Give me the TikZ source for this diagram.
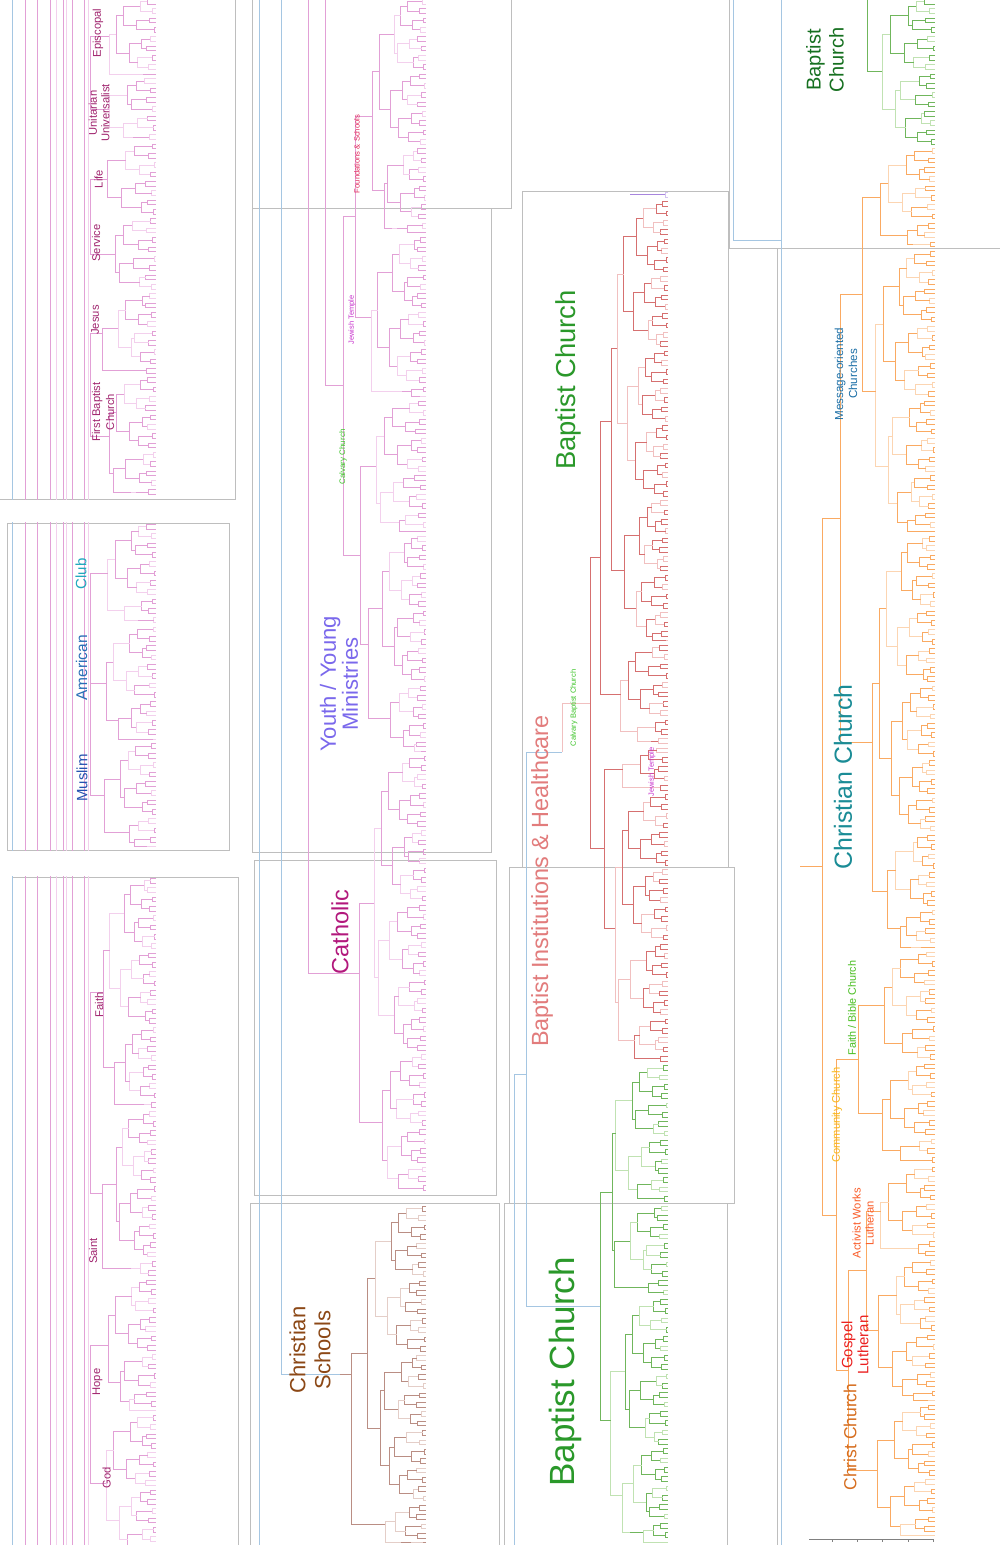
\documentclass[tikz,border=0pt]{standalone}
\usepackage{fontspec}
\setmainfont{Liberation Sans}
\usetikzlibrary{positioning}

% branch colours
\definecolor{pkline}{RGB}{226,160,214}
\definecolor{pklight}{RGB}{243,208,237}
\definecolor{rdline}{RGB}{214,112,112}
\definecolor{rdlight}{RGB}{241,192,192}
\definecolor{gnline}{RGB}{112,182,92}
\definecolor{gnlight}{RGB}{192,226,178}
\definecolor{orline}{RGB}{250,170,98}
\definecolor{orlight}{RGB}{252,213,178}
\definecolor{brline}{RGB}{186,142,132}
\definecolor{brlight}{RGB}{228,206,200}
\definecolor{puline}{RGB}{168,134,222}
\definecolor{pulight}{RGB}{212,196,240}
\definecolor{bgblue}{RGB}{165,198,226}
\definecolor{panelgray}{RGB}{190,190,190}
% label colours
\definecolor{lbmag}{RGB}{160,36,110}
\definecolor{lbclub}{RGB}{32,168,190}
\definecolor{lbamer}{RGB}{40,110,182}
\definecolor{lbmusl}{RGB}{36,82,176}
\definecolor{lbfound}{RGB}{226,40,90}
\definecolor{lbjew}{RGB}{200,50,205}
\definecolor{lbcalv}{RGB}{60,196,40}
\definecolor{lbyouth}{RGB}{122,104,236}
\definecolor{lbcath}{RGB}{178,24,124}
\definecolor{lbschool}{RGB}{140,72,22}
\definecolor{lbbapt}{RGB}{42,152,42}
\definecolor{lbbinst}{RGB}{226,124,124}
\definecolor{lbdkgreen}{RGB}{22,112,32}
\definecolor{lbmsg}{RGB}{26,110,166}
\definecolor{lbchrist}{RGB}{26,140,150}
\definecolor{lbfaith}{RGB}{72,190,32}
\definecolor{lbcomm}{RGB}{250,182,22}
\definecolor{lbactiv}{RGB}{250,92,40}
\definecolor{lbgospel}{RGB}{235,32,32}
\definecolor{lbcc}{RGB}{214,110,32}

\newcommand{\rowh}{4.67}
% #1 leaf x, #2 top y, #3 leaves, #4 levels, #5 level step,
% #6 colour, #7 light colour, #8 seed, #9 x of the root stem
\newcommand{\dtree}[9]{%
  \foreach \k in {1,...,#4}{%
    \pgfmathtruncatemacro{\tbs}{2^\k}%
    \pgfmathtruncatemacro{\thb}{2^(\k-1)}%
    \pgfmathtruncatemacro{\tnb}{ceil(#3/\tbs)-1}%
    \foreach \j in {0,...,\tnb}{%
      \pgfmathtruncatemacro{\tst}{\j*\tbs}%
      \pgfmathtruncatemacro{\tmid}{\tst+\thb}%
      \pgfmathtruncatemacro{\tend}{min(\tst+\tbs,#3)-1}%
      \pgfmathtruncatemacro{\tja}{2*\j}%
      \pgfmathtruncatemacro{\tjb}{2*\j+1}%
      \pgfmathsetmacro{\tpx}{#1-#5*(\k-0.85)-0.8*#5*mod(\j*37+\k*53+#8*17,89)/89}%
      \ifnum\k=1
        \def\tcxa{#1}\def\tcxb{#1}%
      \else
        \pgfmathsetmacro{\tcxa}{#1-#5*(\k-1.85)-0.8*#5*mod(\tja*37+(\k-1)*53+#8*17,89)/89}%
        \pgfmathsetmacro{\tcxb}{#1-#5*(\k-1.85)-0.8*#5*mod(\tjb*37+(\k-1)*53+#8*17,89)/89}%
      \fi
      \pgfmathtruncatemacro{\tea}{min(\tmid,#3)-1}%
      \pgfmathsetmacro{\tya}{#2+\rowh*((\tst+\tea)/2+0.5)}%
      \pgfmathtruncatemacro{\tsh}{mod(\j+\k+#8,3)}%
      \ifnum\tsh=0 \colorlet{dtcol}{#7}\else\colorlet{dtcol}{#6}\fi
      \ifnum\tmid>\tend
        \draw[br,dtcol] (\tcxa,\tya) -- (\tpx,\tya);
      \else
        \pgfmathsetmacro{\tyb}{#2+\rowh*((\tmid+\tend)/2+0.5)}%
        \draw[br,dtcol] (\tcxa,\tya) -- (\tpx,\tya) -- (\tpx,\tyb) -- (\tcxb,\tyb);
      \fi
    }%
  }%
  \pgfmathsetmacro{\trx}{#1-#5*(#4-0.85)-0.8*#5*mod(#4*53+#8*17,89)/89}%
  \pgfmathsetmacro{\try}{#2+\rowh*#3/2}%
  \draw[br,#6] (\trx,\try) -- (#9,\try);
}

\begin{document}
\begin{tikzpicture}[x=1pt,y=-1pt,
    br/.style={line width=0.7pt},
    panel/.style={draw=panelgray,fill=white,line width=0.6pt},
    bgl/.style={line width=0.8pt},
    clab/.style={rotate=90,inner sep=0pt,align=center}]
  \useasboundingbox (0,0) rectangle (1000,1545);
  \begin{scope}
  \clip (0,0) rectangle (1000,1545);
  \fill[white] (0,0) rectangle (1000,1545);

  % panels
  \draw[panel] (-5,-5) rectangle (235,499);
  \draw[panel] (7,523) rectangle (229,850);
  \draw[panel] (12,877) rectangle (238,1550);
  \draw[panel] (252,-5) rectangle (511,208);
  \draw[panel] (252,208) rectangle (491,852);
  \draw[panel] (254,860) rectangle (496,1195);
  \draw[panel] (250,1203) rectangle (499,1550);
  \draw[panel] (522,191) rectangle (728,867);
  \draw[panel] (509,867) rectangle (734,1203);
  \draw[panel] (504,1203) rectangle (727,1550);
  \draw[panel] (729,-5) rectangle (1005,248);
  \draw[panel] (777,248) rectangle (1005,1550);

  % long links behind the clusters
  \foreach \bx/\bc in {12/bgblue,25/pkline,37/pkline,50/pkline,56/pklight,
      63/pkline,66/pklight,72/pkline,84/pkline,88/pklight}
    \draw[bgl,draw=\bc] (\bx,-5) -- (\bx,1550);
  \fill[white] (-5,499.6) rectangle (249,522.4);
  \fill[white] (-5,850.6) rectangle (249,876.4);
  \draw[bgl,bgblue] (259,-5) -- (259,1550);
  \draw[bgl,bgblue] (281,-5) -- (281,1374.5) -- (340,1374.5);
  \draw[bgl,pkline] (308,-5) -- (308,973.1) -- (332,973.1);
  \draw[bgl,pkline] (325,-5) -- (325,385.8);
  \draw[bgl,rdlight] (590,703.2) -- (562,703.2) -- (562,752);
  \draw[bgl,bgblue] (562,752) -- (526,752) -- (526,1306.3) -- (600,1306.3);
  \draw[bgl,bgblue] (526,1074) -- (514,1074) -- (514,1550);
  \draw[bgl,bgblue] (733,-5) -- (733,240) -- (781,240);
  \draw[bgl,bgblue] (781,-5) -- (781,1550);

  % column 1
  \dtree{156}{-3}{17}{5}{11}{pkline}{pklight}{1}{90}
  \dtree{156}{76.4}{14}{4}{12.5}{pkline}{pklight}{2}{90}
  \dtree{156}{141.8}{16}{4}{12.5}{pkline}{pklight}{3}{90}
  \dtree{156}{216.5}{16}{4}{12.5}{pkline}{pklight}{4}{90}
  \dtree{156}{291.2}{18}{5}{11}{pkline}{pklight}{5}{90}
  \dtree{156}{375.3}{26}{5}{11}{pkline}{pklight}{6}{90}
  \dtree{156}{522}{22}{5}{11}{pkline}{pklight}{7}{90}
  \dtree{156}{624.7}{25}{5}{11}{pkline}{pklight}{8}{90}
  \dtree{156}{741.5}{23}{5}{11}{pkline}{pklight}{9}{90}
  \dtree{156}{876}{50}{6}{9.5}{pkline}{pklight}{10}{90}
  \dtree{156}{1109.5}{36}{6}{9.5}{pkline}{pklight}{11}{90}
  \dtree{156}{1277.6}{29}{5}{11}{pkline}{pklight}{12}{90}
  \dtree{156}{1413}{30}{5}{11}{pkline}{pklight}{13}{90}
  \draw[br,pkline] (90,36.7) -- (90,109.1);
  \draw[br,pkline] (90,179.2) -- (90,253.9);
  \draw[br,pkline] (90,333.2) -- (90,436);
  \draw[br,pkline] (90,573.4) -- (90,795.2);
  \draw[br,pkline] (90,992.8) -- (90,1193.6);
  \draw[br,pkline] (90,1345.3) -- (90,1483);

  % column 2
  \dtree{426}{-3}{51}{6}{10}{pkline}{pklight}{14}{355}
  \dtree{426}{235.2}{35}{6}{10}{pkline}{pklight}{15}{355}
  \dtree{426}{398.7}{29}{5}{12}{pkline}{pklight}{16}{360}
  \dtree{426}{534.1}{47}{6}{10}{pkline}{pklight}{17}{360}
  \dtree{426}{753.6}{94}{7}{10}{pkline}{pklight}{18}{332}
  \dtree{426}{1204}{73}{7}{11}{brline}{brlight}{19}{340}
  \draw[br,pkline] (355,116.1) -- (355,316.9);
  \draw[br,pkline] (360,466.4) -- (360,643.8);
  \draw[br,pkline] (355,216.5) -- (343,216.5) -- (343,555.1) -- (360,555.1);
  \draw[br,pkline] (343,385.8) -- (325,385.8);

  % column 3
  \dtree{668}{190}{2}{1}{6}{puline}{pulight}{20}{630}
  \dtree{668}{199.3}{95}{7}{9}{rdline}{rdlight}{21}{600}
  \dtree{668}{643}{22}{5}{11}{rdline}{rdlight}{22}{600}
  \dtree{668}{745.8}{10}{4}{12}{rdline}{rdlight}{23}{604}
  \dtree{668}{792.5}{58}{6}{10}{rdline}{rdlight}{24}{604}
  \dtree{668}{1063.4}{30}{5}{11}{gnline}{gnlight}{25}{612}
  \dtree{668}{1203.5}{20}{5}{11}{gnline}{gnlight}{26}{612}
  \dtree{668}{1296.9}{53}{6}{10}{gnline}{gnlight}{27}{600}
  \draw[br,rdline] (600,421.1) -- (600,694.4);
  \draw[br,rdline] (604,769.2) -- (604,927.9);
  \draw[br,rdline] (600,557.8) -- (590,557.8) -- (590,848.6) -- (604,848.6);
  \draw[br,gnline] (612,1133.5) -- (612,1250.2);
  \draw[br,gnline] (612,1191.9) -- (600,1191.9) -- (600,1420.7);

  % column 4
  \dtree{935}{-3}{32}{5}{12}{gnline}{gnlight}{28}{867}
  \dtree{935}{146.4}{22}{5}{12}{orline}{orlight}{29}{862}
  \dtree{935}{249.2}{61}{6}{11}{orline}{orlight}{30}{862}
  \dtree{935}{534.1}{89}{7}{10}{orline}{orlight}{31}{840}
  \dtree{935}{949.7}{24}{5}{12}{orline}{orlight}{32}{858}
  \dtree{935}{1061.8}{22}{5}{12}{orline}{orlight}{33}{858}
  \dtree{935}{1164.5}{20}{5}{12}{orline}{orlight}{34}{866}
  \dtree{935}{1257.9}{31}{5}{12}{orline}{orlight}{35}{866}
  \dtree{935}{1402.7}{29}{5}{12}{orline}{orlight}{36}{848}
  \draw[br,gnline] (867,71.7) -- (867,-5);
  \draw[br,orline] (862,197.8) -- (862,391.6);
  \draw[br,orline] (862,294.7) -- (840,294.7) -- (840,741.9);
  \draw[br,orline] (858,1005.7) -- (858,1113.2);
  \draw[br,orline] (866,1211.2) -- (866,1330.3);
  \draw[br,orline] (866,1270.8) -- (848,1270.8) -- (848,1470.4);
  \draw[br,orline] (858,1059.5) -- (836,1059.5) -- (836,1370.6) -- (848,1370.6);
  \draw[br,orline] (840,518.3) -- (822,518.3) -- (822,1215.1) -- (836,1215.1);
  \draw[br,orline] (822,866.7) -- (800,866.7);

  % distance axis
  \draw[line width=0.5pt,gray] (809,1539) -- (933,1539);
  \foreach \tx in {832.3,857.3,882.7,908.3,933.3}
    \draw[line width=0.5pt,gray] (\tx,1539) -- (\tx,1542);
  \end{scope}

  % cluster labels
  \node[clab,text=lbmag,font=\fontsize{11.2}{12.5}\selectfont] (episcopal) at (98,33) {Episcopal};
  \node[clab,text=lbmag,font=\fontsize{11.2}{12.5}\selectfont] (unitarian) at (99,113) {Unitarian\\Universalist};
  \node[clab,text=lbmag,font=\fontsize{11.2}{12.5}\selectfont] (life) at (98.5,179) {Life};
  \node[clab,text=lbmag,font=\fontsize{11.2}{12.5}\selectfont] (service) at (96,243) {Service};
  \node[clab,text=lbmag,font=\fontsize{11.2}{12.5}\selectfont] (jesus) at (95,320) {Jesus};
  \node[clab,text=lbmag,font=\fontsize{11.2}{14}\selectfont] (fbc) at (103,412) {First Baptist\\Church};
  \node[clab,text=lbclub,font=\fontsize{15}{17}\selectfont] (club) at (81,574) {Club};
  \node[clab,text=lbamer,font=\fontsize{15.5}{17}\selectfont] (american) at (81.5,668) {American};
  \node[clab,text=lbmusl,font=\fontsize{15}{17}\selectfont] (muslim) at (82,778) {Muslim};
  \node[clab,text=lbmag,font=\fontsize{11.2}{12.5}\selectfont] (faith) at (99,1005) {Faith};
  \node[clab,text=lbmag,font=\fontsize{11.2}{12.5}\selectfont] (saint) at (93,1251) {Saint};
  \node[clab,text=lbmag,font=\fontsize{11.2}{12.5}\selectfont] (hope) at (97.5,1382) {Hope};
  \node[clab,text=lbmag,font=\fontsize{11.2}{12.5}\selectfont] (god) at (106.5,1478) {God};

  \node[clab,text=lbfound,font=\fontsize{7.6}{9}\selectfont] (found) at (357,154) {Foundations \& Schools};
  \node[clab,text=lbjew,font=\fontsize{7.5}{9}\selectfont] (jewtwo) at (352,320) {Jewish Temple};
  \node[clab,text=lbcalv,font=\fontsize{8}{9}\selectfont] (calvary) at (343,457) {Calvary Church};
  \node[clab,text=lbyouth,font=\fontsize{22}{22}\selectfont] (youth) at (339,684) {Youth / Young\\Ministries};
  \node[clab,text=lbcath,font=\fontsize{23.5}{26}\selectfont] (catholic) at (340,932) {Catholic};
  \node[clab,text=lbschool,font=\fontsize{22}{25}\selectfont] (schools) at (310,1350) {Christian\\Schools};

  \node[clab,text=lbbapt,font=\fontsize{27.4}{30}\selectfont] (baptup) at (568,380) {Baptist Church};
  \node[clab,text=lbcalv,font=\fontsize{7.5}{9}\selectfont] (calvbapt) at (574,708) {Calvary Baptist Church};
  \node[clab,text=lbjew,font=\fontsize{7.5}{9}\selectfont] (jewthree) at (652,772) {Jewish Temple};
  \node[clab,text=lbbinst,font=\fontsize{23.4}{26}\selectfont] (binst) at (542,881) {Baptist Institutions \& Healthcare};
  \node[clab,text=lbbapt,font=\fontsize{35}{38}\selectfont] (baptlow) at (565,1372) {Baptist Church};

  \node[clab,text=lbdkgreen,font=\fontsize{20}{23}\selectfont] (baptfour) at (825,60) {Baptist\\Church};
  \node[clab,text=lbmsg,font=\fontsize{11.6}{14}\selectfont] (message) at (846,374) {Message-oriented\\Churches};
  \node[clab,text=lbchrist,font=\fontsize{24.8}{27}\selectfont] (christian) at (843,777) {Christian Church};
  \node[clab,text=lbfaith,font=\fontsize{10.8}{12}\selectfont] (bible) at (852,1008) {Faith / Bible Church};
  \node[clab,text=lbcomm,font=\fontsize{11.1}{12}\selectfont] (community) at (837,1115) {Community Church};
  \node[clab,text=lbactiv,font=\fontsize{11.2}{13}\selectfont] (activist) at (863,1223) {Activist Works\\Lutheran};
  \node[clab,text=lbgospel,font=\fontsize{15}{16}\selectfont] (gospel) at (855,1345) {Gospel\\Lutheran};
  \node[clab,text=lbcc,font=\fontsize{17.5}{19}\selectfont] (christch) at (850,1437) {Christ Church};
\end{tikzpicture}
\end{document}
